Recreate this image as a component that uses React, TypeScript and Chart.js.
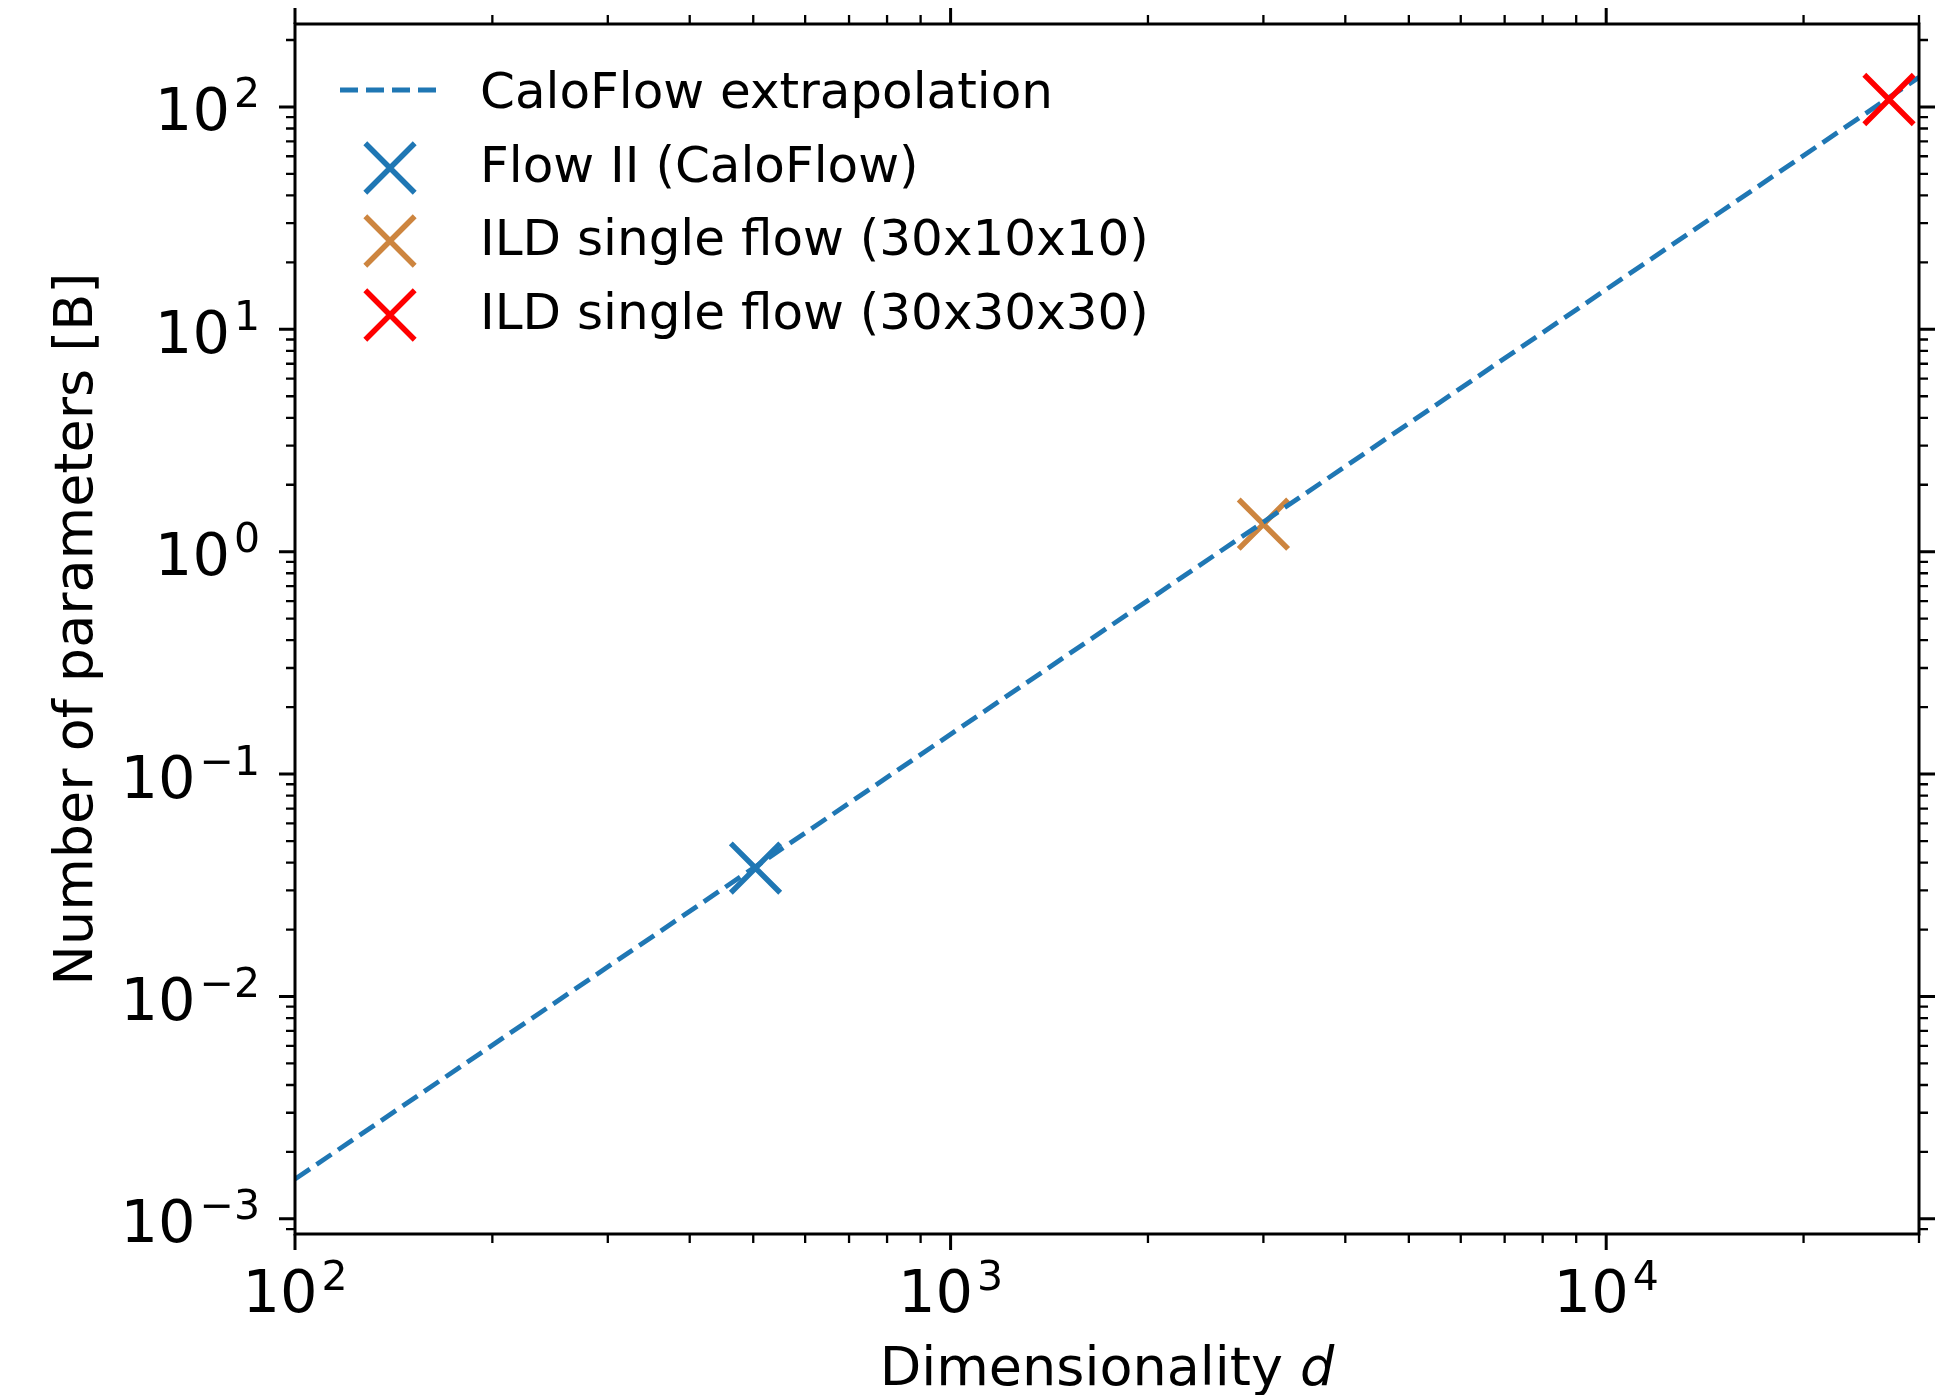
import React, { useEffect, useRef } from "react";
import { Chart, registerables } from "chart.js";

Chart.register(...registerables);

const W = 1951;
const H = 1395;

// ---- data ----
const extrapolationDims = [100, 30000];
const extrapolationParams = [1.51e-3, 136];

const caloFlowDims = [504];
const caloFlowParams = [0.0378];

const ild10Dims = [3000];
const ild10Params = [1.33];

const ild30Dims = [27000];
const ild30Params = [108];

const seriesLabels = [
  "CaloFlow extrapolation",
  "Flow II (CaloFlow)",
  "ILD single flow (30x10x10)",
  "ILD single flow (30x30x30)",
];
const seriesColors = ["#1f77b4", "#1f77b4", "#cd853f", "#ff0000"];

const xRange = [100, 30000];
const yRange = [8.55e-4, 236];

const xMajorTicks = [100, 1000, 10000];
const xTickExponents = ["2", "3", "4"];
const yMajorTicks = [1e-3, 1e-2, 1e-1, 1, 10, 100];
const yTickExponents = ["\u22123", "\u22122", "\u22121", "0", "1", "2"];

const xTitle = "Dimensionality ";
const xTitleMath = "d";
const yTitle = "Number of parameters [B]";

const FONT = "'DejaVu Sans', sans-serif";

const ARM = 24.7; // half-extent of X marker arms
const MARKER_RADIUS = ARM / Math.SQRT1_2;
const MARKER_WIDTH = 5.5;
const DASH = [18, 8];
const LINE_WIDTH = 4.8;

function logTicks(min: number, max: number) {
  const out: { v: number; major: boolean }[] = [];
  const e0 = Math.floor(Math.log10(min));
  const e1 = Math.ceil(Math.log10(max));
  for (let e = e0; e <= e1; e++) {
    for (let k = 1; k < 10; k++) {
      const v = k * Math.pow(10, e);
      if (v >= min * 0.9999 && v <= max * 1.0001) out.push({ v, major: k === 1 });
    }
  }
  return out;
}

function drawX(ctx: CanvasRenderingContext2D, x: number, y: number, color: string) {
  ctx.save();
  ctx.strokeStyle = color;
  ctx.lineWidth = MARKER_WIDTH;
  ctx.lineCap = "butt";
  ctx.beginPath();
  ctx.moveTo(x - ARM, y - ARM);
  ctx.lineTo(x + ARM, y + ARM);
  ctx.moveTo(x + ARM, y - ARM);
  ctx.lineTo(x - ARM, y + ARM);
  ctx.stroke();
  ctx.restore();
}

const framePlugin = {
  id: "mplFrame",
  afterDatasetsDraw(chart: any) {
    const { ctx, chartArea: a, scales } = chart;
    const xs = scales.x;
    const ys = scales.y;
    ctx.save();
    ctx.strokeStyle = "#000";
    ctx.fillStyle = "#000";

    // ticks
    const majLen = 16;
    const minLen = 9;
    for (const t of logTicks(xRange[0], xRange[1])) {
      const px = xs.getPixelForValue(t.v);
      const len = t.major ? majLen : minLen;
      ctx.lineWidth = t.major ? 3 : 2.3;
      ctx.beginPath();
      ctx.moveTo(px, a.bottom);
      ctx.lineTo(px, a.bottom + len);
      ctx.moveTo(px, a.top);
      ctx.lineTo(px, a.top - len);
      ctx.stroke();
    }
    for (const t of logTicks(yRange[0], yRange[1])) {
      const py = ys.getPixelForValue(t.v);
      const len = t.major ? majLen : minLen;
      ctx.lineWidth = t.major ? 3 : 2.3;
      ctx.beginPath();
      ctx.moveTo(a.left, py);
      ctx.lineTo(a.left - len, py);
      ctx.moveTo(a.right, py);
      ctx.lineTo(a.right + len, py);
      ctx.stroke();
    }

    // frame
    ctx.lineWidth = 3;
    ctx.strokeRect(a.left, a.top, a.right - a.left, a.bottom - a.top);

    // tick labels
    const baseFont = `59px ${FONT}`;
    const supFont = `41px ${FONT}`;
    const gap = 4;
    ctx.textAlign = "left";
    ctx.textBaseline = "alphabetic";
    xMajorTicks.forEach((v, i) => {
      const px = xs.getPixelForValue(v);
      ctx.font = baseFont;
      const wb = ctx.measureText("10").width;
      ctx.font = supFont;
      const ws = ctx.measureText(xTickExponents[i]).width;
      const x0 = px - (wb + gap + ws) / 2;
      ctx.font = baseFont;
      ctx.fillText("10", x0, a.bottom + 78);
      ctx.font = supFont;
      ctx.fillText(xTickExponents[i], x0 + wb + gap, a.bottom + 56);
    });
    yMajorTicks.forEach((v, i) => {
      const py = ys.getPixelForValue(v);
      ctx.font = baseFont;
      const wb = ctx.measureText("10").width;
      ctx.font = supFont;
      const ws = ctx.measureText(yTickExponents[i]).width;
      const right = a.left - 35;
      const x0 = right - (wb + gap + ws);
      ctx.font = baseFont;
      ctx.fillText("10", x0, py + 23.5);
      ctx.font = supFont;
      ctx.fillText(yTickExponents[i], x0 + wb + gap, py + 0.5);
    });

    // axis titles
    const titleFont = `54px ${FONT}`;
    const titleItalic = `italic 54px ${FONT}`;
    ctx.font = titleFont;
    const w1 = ctx.measureText(xTitle).width;
    ctx.font = titleItalic;
    const w2 = ctx.measureText(xTitleMath).width;
    const cx = (a.left + a.right) / 2;
    const sx = cx - (w1 + w2) / 2;
    ctx.font = titleFont;
    ctx.fillText(xTitle, sx, 1385);
    ctx.font = titleItalic;
    ctx.fillText(xTitleMath, sx + w1, 1385);

    ctx.save();
    ctx.translate(92, (a.top + a.bottom) / 2);
    ctx.rotate(-Math.PI / 2);
    ctx.font = titleFont;
    ctx.textAlign = "center";
    ctx.fillText(yTitle, 0, 0);
    ctx.restore();

    // legend
    const legendFont = `50px ${FONT}`;
    ctx.font = legendFont;
    const textX = 480;
    const baselines = [108, 182, 255, 329];
    const markerYs = [0, 168, 241, 315];
    ctx.save();
    ctx.strokeStyle = seriesColors[0];
    ctx.lineWidth = LINE_WIDTH;
    ctx.setLineDash(DASH);
    ctx.beginPath();
    ctx.moveTo(340, 90);
    ctx.lineTo(439, 90);
    ctx.stroke();
    ctx.restore();
    for (let i = 1; i < 4; i++) drawX(ctx, 390, markerYs[i], seriesColors[i]);
    ctx.fillStyle = "#000";
    seriesLabels.forEach((lab, i) => ctx.fillText(lab, textX, baselines[i]));

    ctx.restore();
  },
};

function toPoints(xs: number[], ys: number[]) {
  return xs.map((x, i) => ({ x, y: ys[i] }));
}

export default function App() {
  const ref = useRef<HTMLCanvasElement | null>(null);
  useEffect(() => {
    if (!ref.current) return;
    const markerDs = (i: number, xs: number[], ys: number[], order: number) => ({
      label: seriesLabels[i],
      data: toPoints(xs, ys),
      showLine: false,
      pointStyle: "crossRot",
      pointRadius: MARKER_RADIUS,
      pointHoverRadius: MARKER_RADIUS,
      pointBorderWidth: MARKER_WIDTH,
      pointBorderColor: seriesColors[i],
      pointBackgroundColor: seriesColors[i],
      order,
    });
    const chart = new Chart(ref.current, {
      type: "scatter",
      data: {
        datasets: [
          markerDs(3, ild30Dims, ild30Params, 0),
          {
            label: seriesLabels[0],
            data: toPoints(extrapolationDims, extrapolationParams),
            showLine: true,
            borderColor: seriesColors[0],
            borderWidth: LINE_WIDTH,
            borderDash: DASH,
            pointRadius: 0,
            pointHoverRadius: 0,
            fill: false,
            tension: 0,
            order: 1,
          },
          markerDs(2, ild10Dims, ild10Params, 2),
          markerDs(1, caloFlowDims, caloFlowParams, 3),
        ] as any,
      },
      options: {
        animation: false,
        responsive: false,
        devicePixelRatio: 1,
        layout: { autoPadding: false, padding: { left: 295, top: 24, right: 32, bottom: 161 } },
        plugins: { legend: { display: false }, tooltip: { enabled: false }, title: { display: false } },
        events: [],
        scales: {
          x: { type: "logarithmic", min: xRange[0], max: xRange[1], display: false },
          y: { type: "logarithmic", min: yRange[0], max: yRange[1], display: false },
        },
      } as any,
      plugins: [framePlugin],
    });
    return () => chart.destroy();
  }, []);
  return (
    <div style={{ position: "absolute", left: 0, top: 0, width: W, height: H, background: "#fff" }}>
      <canvas ref={ref} width={W} height={H} style={{ display: "block", width: W, height: H }} />
    </div>
  );
}
